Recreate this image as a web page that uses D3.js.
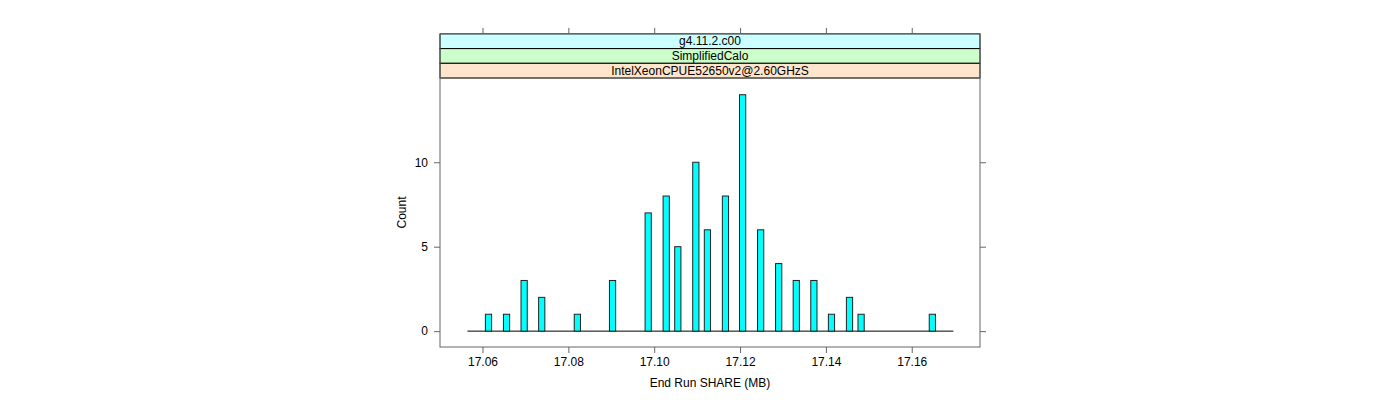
<!DOCTYPE html>
<html><head><meta charset="utf-8">
<script src="https://cdn.jsdelivr.net/npm/d3@7"></script>
<style>html,body{margin:0;padding:0;background:#fff}svg{display:block}</style>
</head><body>
<svg id="chart" width="1400" height="400"></svg>
<script>
const shareValues = [17.0614, 17.0656, 17.0697, 17.0738, 17.0821, 17.0903, 17.0986, 17.1028, 17.1055, 17.1097, 17.1124, 17.1166, 17.1206, 17.1248, 17.1290, 17.1331, 17.1372, 17.1413, 17.1455, 17.1482, 17.1648];
const counts = [1, 1, 3, 2, 1, 3, 7, 8, 5, 10, 6, 8, 14, 6, 4, 3, 3, 1, 2, 1, 1];
const xTicks = [17.06, 17.08, 17.10, 17.12, 17.14, 17.16];
const yTicks = [0, 5, 10];
const stripLabels = ["g4.11.2.c00", "SimplifiedCalo", "IntelXeonCPUE52650v2@2.60GHzS"];
const stripColors = ["#CCFFFF", "#CCFFCC", "#FFE5CC"];
const baselineRange = [17.0565, 17.1697];
const barWidth = 0.00145;
const xDomain = [17.0501, 17.1759];
const yDomain = [-0.94, 14.99];

const svg = d3.select("#chart");
const font = "'Liberation Sans', Arial, Helvetica, sans-serif";
const L = 440, R = 980, T = 78, B = 347;
const stripH = 14.7;
const nStrip = stripLabels.length;
const stripTop = T - stripH * nStrip;

const x = d3.scaleLinear().domain(xDomain).range([L, R]);
const y = d3.scaleLinear().domain(yDomain).range([B, T]);

// strips (top to bottom)
stripLabels.forEach((lab, i) => {
  const y0 = stripTop + i * stripH;
  svg.append("rect").attr("x", L).attr("y", y0).attr("width", R - L).attr("height", stripH)
    .attr("fill", stripColors[i]).attr("stroke", "#000").attr("stroke-width", 1);
  svg.append("text").attr("x", (L + R) / 2).attr("y", y0 + stripH / 2 + 4.2)
    .attr("text-anchor", "middle").attr("font-family", font).attr("font-size", 12)
    .attr("fill", "#000").text(lab);
});

// baseline
svg.append("line").attr("x1", x(baselineRange[0])).attr("x2", x(baselineRange[1]))
  .attr("y1", y(0)).attr("y2", y(0)).attr("stroke", "#000").attr("stroke-width", 1);

// bars
const data = shareValues.map((v, i) => ({v, c: counts[i]}));
svg.append("g").selectAll("rect").data(data).join("rect")
  .attr("x", d => x(d.v - barWidth / 2))
  .attr("width", d => x(d.v + barWidth / 2) - x(d.v - barWidth / 2))
  .attr("y", d => y(d.c))
  .attr("height", d => y(0) - y(d.c))
  .attr("fill", "#00FFFF").attr("stroke", "#222").attr("stroke-width", 1);

// panel border
svg.append("rect").attr("x", L).attr("y", T).attr("width", R - L).attr("height", B - T)
  .attr("fill", "none").attr("stroke", "#666").attr("stroke-width", 1);
svg.append("line").attr("x1", L).attr("x2", L).attr("y1", stripTop).attr("y2", T).attr("stroke", "#666");
svg.append("line").attr("x1", R).attr("x2", R).attr("y1", stripTop).attr("y2", T).attr("stroke", "#666");

// axes
const tickStyle = g => {
  g.select(".domain").remove();
  g.selectAll(".tick line").attr("stroke", "#666");
  g.selectAll(".tick text").attr("font-family", font).attr("font-size", 12).attr("fill", "#000");
};
svg.append("g").attr("transform", `translate(0,${B})`)
  .call(d3.axisBottom(x).tickValues(xTicks).tickFormat(d3.format(".2f")).tickSize(6).tickPadding(4))
  .call(tickStyle);
svg.append("g").attr("transform", `translate(0,${stripTop})`)
  .call(d3.axisTop(x).tickValues(xTicks).tickFormat("").tickSize(6))
  .call(tickStyle);
svg.append("g").attr("transform", `translate(${L},0)`)
  .call(d3.axisLeft(y).tickValues(yTicks).tickFormat(d3.format("d")).tickSize(6).tickPadding(6))
  .call(tickStyle);
svg.append("g").attr("transform", `translate(${R},0)`)
  .call(d3.axisRight(y).tickValues(yTicks).tickFormat("").tickSize(6))
  .call(tickStyle);

// axis labels
svg.append("text").attr("x", (L + R) / 2).attr("y", 387).attr("text-anchor", "middle")
  .attr("font-family", font).attr("font-size", 12).attr("fill", "#000").text("End Run SHARE (MB)");
svg.append("text").attr("transform", `translate(406,${(T + B) / 2}) rotate(-90)`)
  .attr("text-anchor", "middle").attr("font-family", font).attr("font-size", 12)
  .attr("fill", "#000").text("Count");
</script>
</body></html>
